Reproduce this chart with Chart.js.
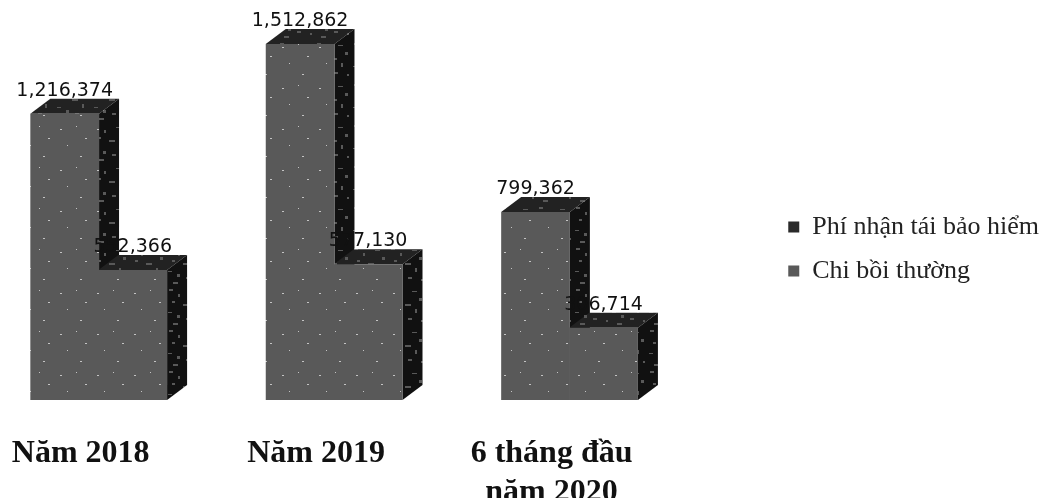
<!DOCTYPE html>
<html>
<head>
<meta charset="utf-8">
<script src="https://cdn.jsdelivr.net/npm/chart.js@4/dist/chart.umd.min.js"></script>
<style>
    html, body { margin: 0; padding: 0; background: #fff; overflow: hidden; }
    #wrap { position: absolute; left: -19px; top: 0; width: 1100px; height: 504px; }
</style>
</head>
<body>
<div id="wrap"><canvas id="chart" width="1100" height="504"></canvas></div>
<script>
// values, the first digits of the two overprinted labels are estimated
const categories = ["Năm 2018", "Năm 2019", ["6 tháng đầu", "năm 2020"]];
const seriesNames = ["Phí nhận tái bảo hiểm", "Chi bồi thường"];
const premiumValues = [1216374, 1512862, 799362];
const claimValues = [552366, 577130, 306714];

const FRONT = "#595959";
const SIDE = "#111111";
const TOP = "#222222";
const DEPTH_X = 20;
const DEPTH_Y = 15;

// scanned print look: small tile of specks
function speckle(base, speck, spots) {
    const tile = document.createElement("canvas");
    tile.width = 37;
    tile.height = 41;
    const t = tile.getContext("2d");
    t.fillStyle = base;
    t.fillRect(0, 0, 37, 41);
    t.fillStyle = speck;
    spots.forEach(s => t.fillRect(s[0], s[1], s[2], s[3]));
    return t.createPattern(tile, "repeat");
}
const darkSpots = [[3, 2, 4, 2], [12, 7, 2, 3], [24, 4, 5, 1], [31, 11, 3, 3], [6, 14, 3, 2], [17, 17, 6, 2],
    [27, 22, 2, 4], [2, 25, 4, 1], [11, 28, 3, 3], [20, 31, 4, 2], [33, 33, 2, 2], [7, 36, 5, 2]];
const lightSpots = [[5, 6, 2, 1], [21, 3, 1, 1], [30, 15, 2, 1], [12, 22, 1, 1], [25, 33, 2, 1]];
const sideFill = speckle(SIDE, "#595959", darkSpots);
const topFill = speckle(TOP, "#595959", darkSpots);
const frontFill = speckle(FRONT, "#c4c4c4", lightSpots);

function face(ctx, color, pts) {
    ctx.fillStyle = color;
    ctx.beginPath();
    pts.forEach((p, i) => i ? ctx.lineTo(p[0], p[1]) : ctx.moveTo(p[0], p[1]));
    ctx.closePath();
    ctx.fill();
}

// side and top faces of the 3D look, left bars first so the right bar covers them
const boxFaces = {
    id: "boxFaces",
    beforeDatasetsDraw(chart) {
        const ctx = chart.ctx;
        ctx.save();
        chart.data.datasets.forEach((ds, i) => {
            chart.getDatasetMeta(i).data.forEach(bar => {
                const l = bar.x - bar.width / 2, r = bar.x + bar.width / 2;
                face(ctx, topFill, [[l, bar.y], [l + DEPTH_X, bar.y - DEPTH_Y], [r + DEPTH_X, bar.y - DEPTH_Y], [r, bar.y]]);
                face(ctx, sideFill, [[r, bar.y], [r + DEPTH_X, bar.y - DEPTH_Y], [r + DEPTH_X, bar.base - DEPTH_Y], [r, bar.base]]);
            });
        });
        ctx.restore();
    },
};

const valueLabels = {
    id: "valueLabels",
    afterDatasetsDraw(chart) {
        const ctx = chart.ctx;
        ctx.save();
        ctx.font = '19px "DejaVu Sans"';
        ctx.fillStyle = "#111";
        ctx.textAlign = "center";
        ctx.textBaseline = "alphabetic";
        chart.data.datasets.forEach((ds, i) => {
            chart.getDatasetMeta(i).data.forEach((bar, j) => {
                ctx.fillText(ds.data[j].toLocaleString("en-US"), bar.x, bar.y - 18);
            });
        });
        ctx.restore();
    },
};

new Chart(document.getElementById("chart"), {
    type: "bar",
    data: {
        labels: categories,
        datasets: [
            { label: seriesNames[0], data: premiumValues, backgroundColor: frontFill },
            { label: seriesNames[1], data: claimValues, backgroundColor: frontFill },
        ],
    },
    options: {
        responsive: false,
        animation: false,
        layout: { padding: { left: 0, right: 32, top: 0, bottom: 6 } },
        datasets: { bar: { categoryPercentage: 0.578, barPercentage: 1.01 } },
        plugins: {
            tooltip: { enabled: false },
            legend: {
                position: "right",
                maxWidth: 320,
                labels: {
                    color: "#222",
                    font: { family: '"Liberation Serif"', size: 26 },
                    boxWidth: 11,
                    boxHeight: 11,
                    padding: 18,
                    generateLabels(chart) {
                        const items = Chart.defaults.plugins.legend.labels.generateLabels(chart);
                        items[0].fillStyle = "#2a2a2a";
                        items[1].fillStyle = FRONT;
                        return items;
                    },
                },
            },
        },
        scales: {
            x: {
                grid: { display: false },
                border: { display: false },
                afterFit(scale) { scale.height = 98; },
                ticks: {
                    color: "#111",
                    maxRotation: 0,
                    autoSkip: false,
                    labelOffset: -18,
                    padding: 26,
                    font: { family: '"Liberation Serif"', size: 32, weight: "bold", lineHeight: 1.22 },
                },
            },
            y: {
                position: "right",
                min: 0,
                max: 1700000,
                grid: { display: false },
                border: { display: false },
                ticks: { display: false },
                afterFit(scale) { scale.width = 83; },
            },
        },
    },
    plugins: [boxFaces, valueLabels],
});
</script>
</body>
</html>
